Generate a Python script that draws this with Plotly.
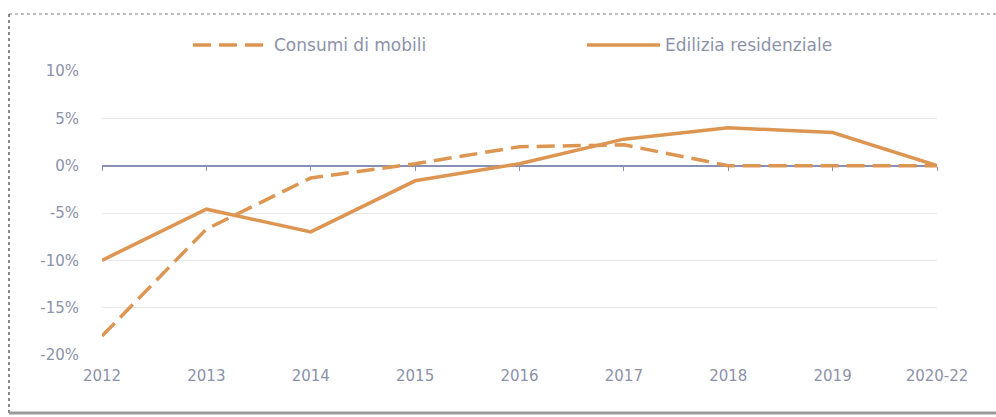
import plotly.graph_objects as go

# Annual change, furniture consumption vs. residential construction
years = ["2012", "2013", "2014", "2015", "2016", "2017", "2018", "2019", "2020-22"]
consumi_mobili = [-18.0, -6.7, -1.3, 0.2, 2.0, 2.2, 0.0, 0.0, 0.0]
edilizia_residenziale = [-10.0, -4.6, -7.0, -1.6, 0.2, 2.8, 4.0, 3.5, 0.0]
y_ticks = [10, 5, 0, -5, -10, -15, -20]
y_labels = ["10%", "5%", "0%", "-5%", "-10%", "-15%", "-20%"]

ORANGE = "#DD9552"
TEXT = "#8C92AA"
FONT = "DejaVu Sans"

W, H = 996, 417
L, R, T, B = 102, 59, 71, 62
pw, ph = W - L - R, H - T - B


def px_x(px):
    return (px - L) / pw


def px_y(py):
    return (H - B - py) / ph


xi = list(range(len(years)))

fig = go.Figure()
fig.add_trace(go.Scatter(
    x=xi, y=edilizia_residenziale, mode="lines", name="Edilizia residenziale",
    line=dict(color=ORANGE, width=3.5), showlegend=False,
))
fig.add_trace(go.Scatter(
    x=xi, y=consumi_mobili, mode="lines", name="Consumi di mobili",
    line=dict(color=ORANGE, width=3.5, dash="18px,8px"), showlegend=False,
))
# invisible trace carrying the zero-line axis with its tick marks
fig.add_trace(go.Scatter(x=xi, y=[0] * len(xi), xaxis="x2", mode="lines",
                         line=dict(width=0), hoverinfo="skip", showlegend=False))

zero_pos = (0 - (-20)) / 30

fig.update_layout(
    width=W, height=H,
    margin=dict(l=L, r=R, t=T, b=B),
    paper_bgcolor="white", plot_bgcolor="white",
    font=dict(family=FONT, size=15, color=TEXT),
    xaxis=dict(
        range=[0, 8], tickmode="array", tickvals=xi, ticktext=years,
        showgrid=False, zeroline=False, showline=False, ticks="",
        tickfont=dict(size=15, color=TEXT), ticklabelstandoff=10,
    ),
    xaxis2=dict(
        range=[0, 8], overlaying="x", anchor="free", position=zero_pos,
        tickmode="array", tickvals=xi, showticklabels=False,
        showline=False, showgrid=False, zeroline=False,
        ticks="outside", ticklen=4, tickwidth=1, tickcolor="#8990B5",
    ),
    yaxis=dict(
        range=[-20, 10], tickmode="array", tickvals=y_ticks, ticktext=y_labels,
        showgrid=True, gridcolor="#EAEAEA", gridwidth=1,
        zeroline=True, zerolinecolor="#8990B5", zerolinewidth=1.5,
        showline=False, ticks="", tickfont=dict(size=15, color=TEXT),
        ticklabelstandoff=22,
    ),
)

# legend drawn along the top
legend_items = [
    ("Consumi di mobili", "18px,8px", 193, 265, 272),
    ("Edilizia residenziale", "solid", 587, 660, 663),
]
for label, dash, x0, x1, tx in legend_items:
    fig.add_shape(type="line", xref="paper", yref="paper",
                  x0=px_x(x0), x1=px_x(x1), y0=px_y(45), y1=px_y(45),
                  line=dict(color=ORANGE, width=3.5, dash=dash))
    fig.add_annotation(xref="paper", yref="paper", x=px_x(tx), y=px_y(45),
                       text=label, showarrow=False, xanchor="left", yanchor="middle",
                       font=dict(family=FONT, size=17, color=TEXT))

# surrounding frame
fig.add_shape(type="line", xref="paper", yref="paper",
              x0=px_x(9), x1=px_x(996), y0=px_y(14), y1=px_y(14),
              line=dict(color="#AAAAAA", width=1.5, dash="dot"))
fig.add_shape(type="line", xref="paper", yref="paper",
              x0=px_x(9), x1=px_x(9), y0=px_y(14), y1=px_y(413),
              line=dict(color="#888888", width=2, dash="dot"))
fig.add_shape(type="line", xref="paper", yref="paper",
              x0=px_x(9), x1=px_x(996), y0=px_y(413), y1=px_y(413),
              line=dict(color="#9A9A9A", width=3))

fig.write_html("out.html")
